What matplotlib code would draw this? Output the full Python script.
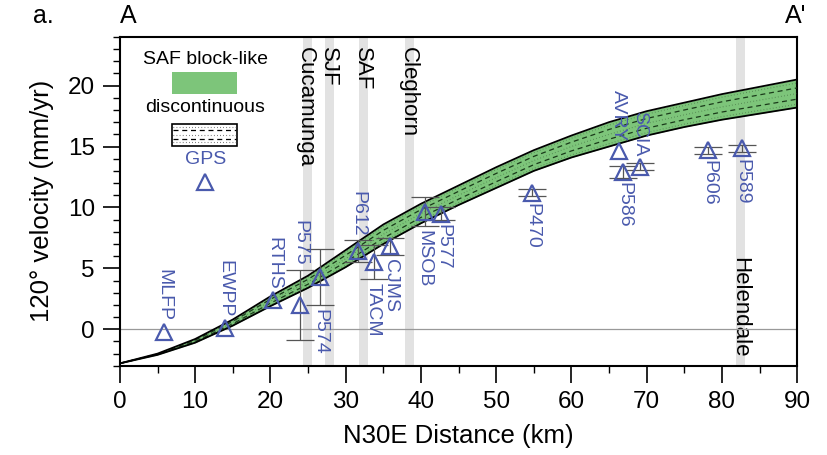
import matplotlib
matplotlib.use('Agg')
import matplotlib.pyplot as plt
from matplotlib.patches import Rectangle
from matplotlib.ticker import MultipleLocator
import numpy as np

plt.rcParams['font.family'] = ['Liberation Sans', 'DejaVu Sans']

# model velocity band (km, mm/yr)
dist = [0, 5, 10, 15, 20, 25, 30, 35, 40, 45, 50, 55, 60, 65, 70, 75, 80, 85, 90]
v_upper = [-2.8, -2.0, -0.8, 0.8, 2.7, 4.4, 6.5, 8.6, 10.3, 11.8, 13.3, 14.7,
           15.9, 17.0, 17.9, 18.6, 19.3, 19.9, 20.5]
v_lower = [-2.8, -2.1, -1.1, 0.3, 1.9, 3.4, 5.1, 7.0, 8.7, 10.2, 11.6, 13.0,
           14.1, 15.0, 15.9, 16.6, 17.2, 17.7, 18.2]

# GPS stations
stations = ['MLFP', 'EWPP', 'RTHS', 'P575', 'P574', 'P612', 'TACM', 'CJMS',
            'MSOB', 'P577', 'P470', 'AVRY', 'P586', 'SCIA', 'P606', 'P589']
sta_x = [5.8, 14.0, 20.4, 23.9, 26.6, 31.6, 33.7, 35.9, 40.6, 42.6, 54.7,
         66.3, 66.9, 69.1, 78.2, 82.7]
sta_v = [-0.2, 0.1, 2.4, 2.0, 4.3, 6.4, 5.5, 6.8, 9.65, 9.5, 11.2, 14.6,
         12.9, 13.35, 14.7, 14.85]
sta_err = [0.0, 0.0, 0.0, 2.9, 2.3, 0.9, 1.4, 0.7, 1.2, 0.5, 0.3, 0.0,
           0.5, 0.3, 0.3, 0.3]
label_above = ['MLFP', 'EWPP', 'RTHS', 'P575', 'P612', 'AVRY', 'SCIA']

# faults
faults = ['Cucamunga', 'SJF', 'SAF', 'Cleghorn', 'Helendale']
fault_x = [24.9, 27.9, 32.4, 38.5, 82.4]

green = '#7dc57a'
blue = '#4a5aad'
gray = '#e2e2e2'

fig = plt.figure(figsize=(8.27, 4.55), dpi=100)
ax = fig.add_axes([0.145, 0.196, 0.819, 0.723])
ax.set_xlim(0, 90)
ax.set_ylim(-3, 24)

for fx in fault_x:
    ax.axvspan(fx - 0.6, fx + 0.6, color=gray, lw=0, zorder=0)
for name, fx in zip(faults, fault_x):
    if name == 'Helendale':
        ax.text(fx, -2.3, name, rotation=-90, ha='center', va='bottom',
                fontsize=16, zorder=1)
    else:
        ax.text(fx - 0.2, 23.2, name, rotation=-90, ha='center', va='top',
                fontsize=16, zorder=1)

ax.axhline(0, color='#999999', lw=0.9, zorder=1)

# band
d = np.array(dist)
up = np.array(v_upper)
lo = np.array(v_lower)
ax.fill_between(d, lo, up, color=green, lw=0, zorder=2)
for f in (0.3, 0.7):
    ax.plot(d, lo + f * (up - lo), color='#1a3a1a', lw=0.9,
            ls=(0, (4, 3)), zorder=3)
for f in (0.12, 0.5, 0.88):
    ax.plot(d, lo + f * (up - lo), color='#2a4a2a', lw=0.8,
            ls=(0, (0.6, 2.2)), alpha=0.6, zorder=3)
ax.plot(d, up, color='k', lw=1.3, zorder=4)
ax.plot(d, lo, color='k', lw=1.3, zorder=4)

# GPS
ex = [x for x, e in zip(sta_x, sta_err) if e > 0]
ev = [v for v, e in zip(sta_v, sta_err) if e > 0]
ee = [e for e in sta_err if e > 0]
ax.errorbar(ex, ev, yerr=ee, fmt='none', ecolor='#555555',
            elinewidth=0.9, capsize=10, capthick=0.9, zorder=5)
ax.plot(sta_x, sta_v, '^', ms=11, mfc='none', mec=blue, mew=1.6, zorder=6)
for name, x, v, e in zip(stations, sta_x, sta_v, sta_err):
    dx = -1.5 if name == 'MSOB' else (1.5 if name == 'P577' else 0)
    if name in label_above:
        ax.annotate(name, (x, v + max(e, 0.5)), xytext=(dx, 3),
                    textcoords='offset points', rotation=-90, ha='center',
                    va='bottom', color=blue, fontsize=14, zorder=7)
    else:
        ax.annotate(name, (x, v - max(e, 0.5)), xytext=(dx, -3),
                    textcoords='offset points', rotation=-90, ha='center',
                    va='top', color=blue, fontsize=14, zorder=7)

# legend
tr = ax.transAxes
ax.text(0.126, 0.93, 'SAF block-like', transform=tr, ha='center', va='center',
        fontsize=14)
ax.add_patch(Rectangle((0.077, 0.827), 0.096, 0.067, transform=tr,
                       facecolor=green, edgecolor='none', zorder=8))
ax.text(0.126, 0.784, 'discontinuous', transform=tr, ha='center',
        va='center', fontsize=14)
ax.add_patch(Rectangle((0.077, 0.669), 0.096, 0.067, transform=tr,
                       facecolor='white', edgecolor='k', lw=1.2, zorder=8))
for f in (0.3, 0.7):
    yy = 0.669 + f * 0.067
    ax.plot([0.079, 0.171], [yy, yy], transform=tr, color='k', lw=0.9,
            ls=(0, (4, 3)), zorder=9)
for f in (0.15, 0.5, 0.85):
    yy = 0.669 + f * 0.067
    ax.plot([0.079, 0.171], [yy, yy], transform=tr, color='#444444', lw=0.8,
            ls=(0, (0.6, 2.2)), zorder=9)
ax.text(0.126, 0.626, 'GPS', transform=tr, ha='center', va='center',
        fontsize=14, color=blue)
ax.plot([0.126], [0.559], '^', transform=tr, ms=11, mfc='none', mec=blue,
        mew=1.6, zorder=9)

ax.set_xlabel('N30E Distance (km)', fontsize=18.5, labelpad=8)
ax.set_ylabel('120° velocity (mm/yr)', fontsize=18.5, labelpad=10)
ax.xaxis.set_major_locator(MultipleLocator(10))
ax.xaxis.set_minor_locator(MultipleLocator(5))
ax.yaxis.set_major_locator(MultipleLocator(5))
ax.yaxis.set_minor_locator(MultipleLocator(1))
ax.tick_params(which='major', direction='out', length=12, width=1.2,
               labelsize=17.5, pad=6)
ax.tick_params(which='minor', direction='out', length=5, width=1.0)
for s in ax.spines.values():
    s.set_linewidth(1.5)

fig.text(0.052, 0.965, 'a.', fontsize=18, ha='center', va='center')
fig.text(0.155, 0.965, 'A', fontsize=18, ha='center', va='center')
fig.text(0.962, 0.965, "A'", fontsize=18, ha='center', va='center')

fig.savefig('out.png', dpi=100)
